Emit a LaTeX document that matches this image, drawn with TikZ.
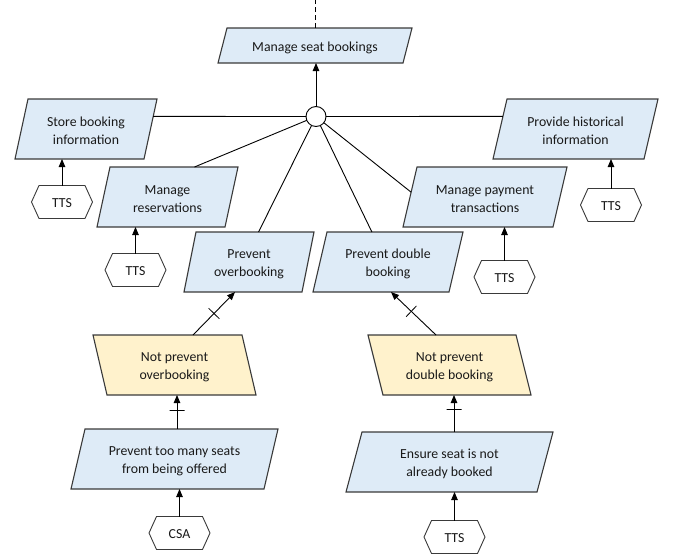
\documentclass[tikz,border=0pt]{standalone}
\usepackage{fontspec}
\setmainfont{Carlito}
\usetikzlibrary{arrows.meta,calc}
\definecolor{boxblue}{HTML}{DEEBF7}
\definecolor{boxyellow}{HTML}{FFF2CC}
\definecolor{edgegray}{HTML}{3A3A3A}
\pgfdeclarelayer{background}
\pgfsetlayers{background,main}
\tikzset{
  boxshape/.style={shape=rectangle, inner sep=0pt, outer sep=0pt},
  boxlabel/.style={inner sep=0pt, align=center, text=black!90, font=\fontsize{13.8}{18.3}\selectfont, yshift=-2pt},
  pgline/.style={draw=edgegray, line width=1.1pt, line join=miter},
  conn/.style={draw=black, line width=0.9pt},
  arr/.style={conn, -{Triangle[length=8pt,width=6.5pt]}},
  ticknode/.style={draw=black, line width=0.8pt, shape=rectangle, inner sep=0pt, outer sep=0pt, minimum width=0pt, minimum height=15pt},
}
% parallelogram, top shifted right
\newcommand\pgramR[7]{%
  \node[boxshape, minimum width=#3pt, minimum height=#4pt, label={[boxlabel]center:#7}] (#1) at (#2) {};
  \begin{pgfonlayer}{background}
  \path[pgline, fill=#6] ([xshift=#5pt]#1.north west) -- (#1.north east) -- ([xshift=-#5pt]#1.south east) -- (#1.south west) -- cycle;
  \end{pgfonlayer}}
% parallelogram, top shifted left
\newcommand\pgramL[7]{%
  \node[boxshape, minimum width=#3pt, minimum height=#4pt, label={[boxlabel]center:#7}] (#1) at (#2) {};
  \begin{pgfonlayer}{background}
  \path[pgline, fill=#6] (#1.north west) -- ([xshift=-#5pt]#1.north east) -- (#1.south east) -- ([xshift=#5pt]#1.south west) -- cycle;
  \end{pgfonlayer}}
% hexagon
\newcommand\hexa[3]{%
  \node[boxshape, minimum width=61pt, minimum height=33pt, label={[boxlabel, yshift=1pt]center:#3}] (#1) at (#2) {};
  \begin{pgfonlayer}{background}
  \path[draw=edgegray, line width=0.9pt, fill=white] (#1.west) -- ([xshift=7.5pt]#1.north west) -- ([xshift=-7.5pt]#1.north east) -- (#1.east) -- ([xshift=-7.5pt]#1.south east) -- ([xshift=7.5pt]#1.south west) -- cycle;
  \end{pgfonlayer}}
\begin{document}
\begin{tikzpicture}[x=1pt,y=-1pt]
\useasboundingbox (0,0) rectangle (682,557);

\pgramR{MSB}{315,45.5}{194}{35}{9}{boxblue}{Manage seat bookings}
\pgramR{SBI}{86,129}{142}{60}{13}{boxblue}{Store booking\\information}
\pgramR{PHI}{575.5,129}{165}{60}{14}{boxblue}{Provide historical\\information}
\pgramR{MR}{167.5,197}{141}{60}{13}{boxblue}{Manage\\reservations}
\pgramR{MPT}{485,197}{164}{60}{14}{boxblue}{Manage payment\\transactions}
\pgramR{PO}{249,262}{130}{60}{12}{boxblue}{Prevent\\overbooking}
\pgramR{PDB}{388,262}{150}{60}{14}{boxblue}{Prevent double\\booking}
\pgramL{NPO}{174.5,365}{163}{60}{14}{boxyellow}{Not prevent\\overbooking}
\pgramL{NPDB}{449.5,365}{163}{60}{15}{boxyellow}{Not prevent\\double booking}
\pgramR{PTM}{174.5,459}{207}{60}{14}{boxblue}{Prevent too many seats\\from being offered}
\pgramR{ES}{449.5,462}{207}{60}{16}{boxblue}{Ensure seat is not\\already booked}

\hexa{H1}{62,202}{TTS}
\hexa{H2}{135.5,270}{TTS}
\hexa{H3}{504.5,277}{TTS}
\hexa{H4}{611,205}{TTS}
\hexa{CSA}{179.5,533}{CSA}
\hexa{H6}{454.5,537}{TTS}

\node[draw=black, line width=0.9pt, fill=white, circle, minimum size=20pt, inner sep=0pt, outer sep=0pt] (o) at (316,116.5) {};

\coordinate (top) at (315,0);
\draw[conn, dash pattern=on 5pt off 3pt] (MSB.north) -- (top);
\draw[arr] (o.north) -- (o.north |- MSB.south);

\draw[conn] (o.west) -- ($(SBI.north east)!0.29!([xshift=-13pt]SBI.south east)$);
\draw[conn] (o.east) -- ($([xshift=14pt]PHI.north west)!0.29!(PHI.south west)$);
\draw[conn] (o) -- ($([xshift=13pt]MR.north west)!0.66!(MR.north east)$);
\draw[conn] (o) -- ($([xshift=12pt]PO.north west)!0.53!(PO.north east)$);
\draw[conn] (o) -- ($([xshift=14pt]PDB.north west)!0.33!(PDB.north east)$);
\draw[conn] (o) -- ($([xshift=14pt]MPT.north west)!0.42!(MPT.south west)$);

\draw[arr] (H1.north) -- (H1.north |- SBI.south);
\draw[arr] (H2.north) -- (H2.north |- MR.south);
\draw[arr] (H3.north) -- (H3.north |- MPT.south);
\draw[arr] (H4.north) -- (H4.north |- PHI.south);
\draw[arr] (CSA.north) -- (CSA.north |- PTM.south);
\draw[arr] (H6.north) -- (H6.north |- ES.south);

\draw[arr] ([xshift=100pt]NPO.north west) -- node[pos=0.5, sloped, ticknode] {} ([xshift=51pt]PO.south west);
\draw[arr] ([xshift=68pt]NPDB.north west) -- node[pos=0.55, sloped, ticknode] {} ([xshift=78pt]PDB.south west);
\draw[arr] ([xshift=2.5pt]PTM.north) -- node[pos=0.55, sloped, ticknode] {} ([xshift=2.5pt]PTM.north |- NPO.south);
\draw[arr] ([xshift=4.5pt]ES.north) -- node[pos=0.62, sloped, ticknode] {} ([xshift=4.5pt]ES.north |- NPDB.south);
\end{tikzpicture}
\end{document}
